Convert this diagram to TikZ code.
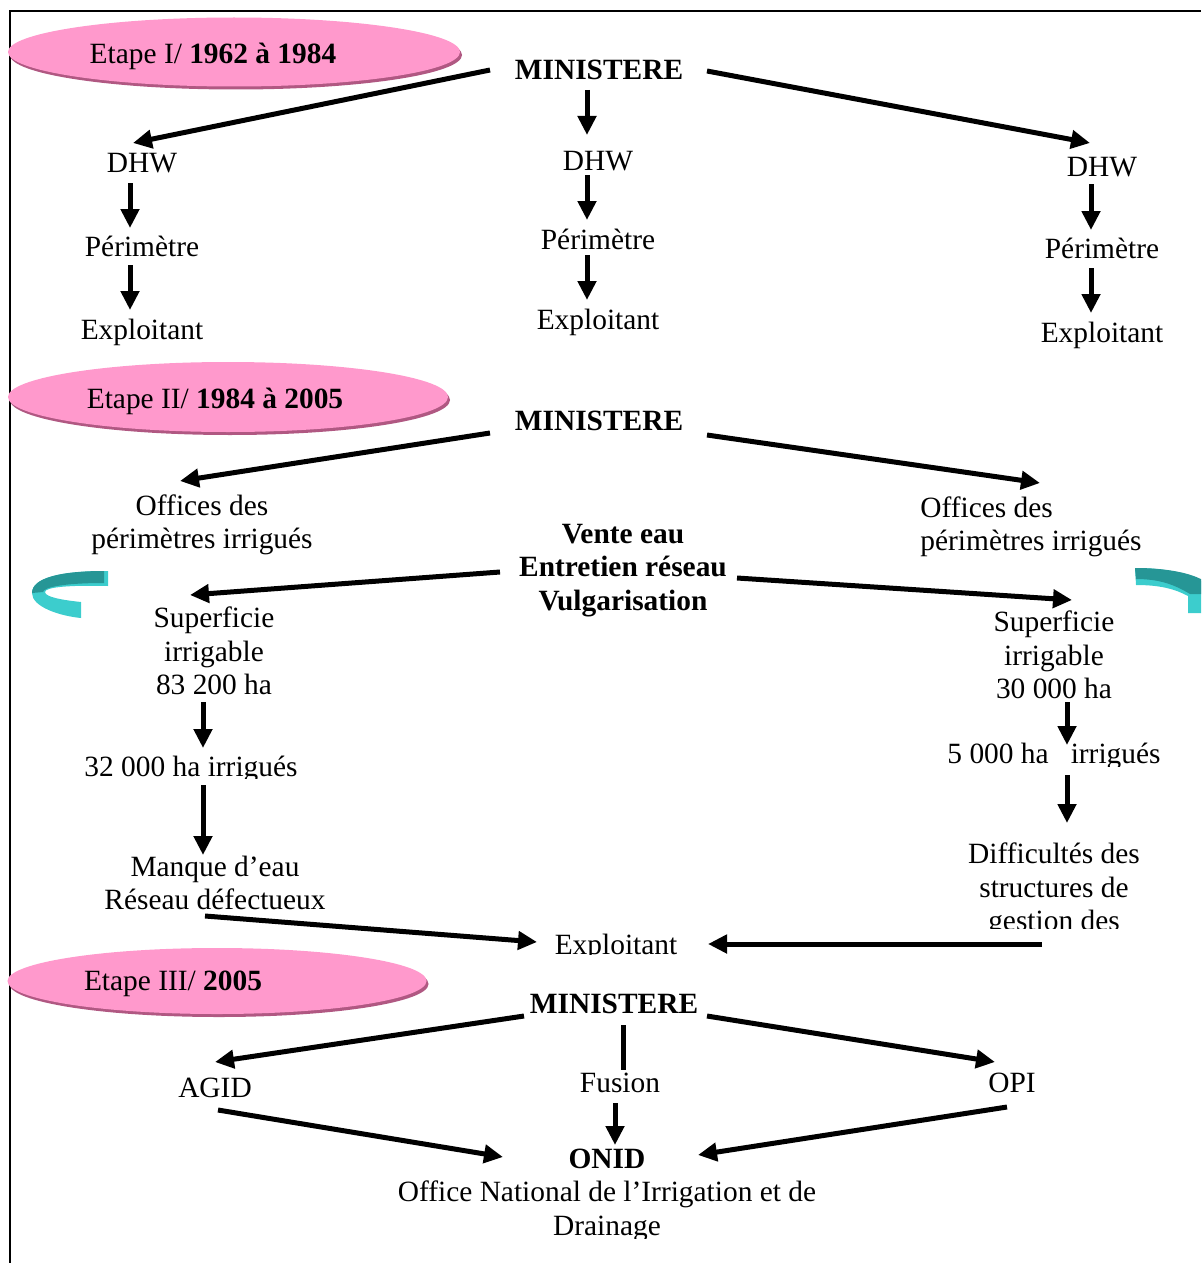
\documentclass[tikz,border=0pt]{standalone}
\usepackage{fontspec}
\setmainfont{Liberation Serif}
\usetikzlibrary{arrows.meta,shapes.geometric}
\definecolor{pinkE}{RGB}{255,153,204}
\definecolor{pinkS}{RGB}{176,88,130}
\definecolor{tealD}{RGB}{38,150,150}
\definecolor{tealL}{RGB}{60,205,205}
\tikzset{
  lbl/.style={font=\fontsize{14.7}{16.75}\selectfont, inner sep=0pt, align=center},
  one/.style={lbl, text height=10pt, text depth=3.2pt},
  bone/.style={one, font=\fontsize{14.7}{16.75}\selectfont\bfseries},
  blbl/.style={lbl, font=\fontsize{14.7}{16.75}\selectfont\bfseries},
  arr/.style={line width=2.5pt, -{Triangle[length=9.5pt,width=9pt]}},
  bar/.style={line width=2.5pt},
  stage/.style={ellipse, fill=pinkE, draw=none, inner sep=0pt},
  stageshadow/.style={ellipse, fill=pinkS, draw=none, inner sep=0pt},
}
\begin{document}
\begin{tikzpicture}[x=0.5pt,y=-0.5pt]
\useasboundingbox (0,0) rectangle (1201,1263);
% frame
\draw[line width=1pt] (10,1263) -- (10,11) -- (1201,11);

% ---------- stage ellipses ----------
\node[stageshadow, minimum width=226pt, minimum height=34.5pt] (e1s) at (236,55) {};
\node[stage, minimum width=226pt, minimum height=34.5pt] (e1) at (234,52) {};
\node[one] (t1) at (213,57) {Etape I/ \textbf{1962 à 1984}};

\node[stageshadow, minimum width=220pt, minimum height=35pt] (e2s) at (230,400) {};
\node[stage, minimum width=220pt, minimum height=35pt] (e2) at (228,397) {};
\node[one] (t2) at (215,402) {Etape II/ \textbf{1984 à 2005}};

\node[stageshadow, minimum width=209.5pt, minimum height=33pt] (e3s) at (219,984) {};
\node[stage, minimum width=209.5pt, minimum height=33pt] (e3) at (217,981) {};
\node[one] (t3) at (173,984) {Etape III/ \textbf{2005}};

% ---------- Stage I ----------
\node[bone] (m1) at (599,73) {MINISTERE};
\node[one] (d1L) at (142,166) {DHW};
\node[one] (d1M) at (598,164) {DHW};
\node[one] (d1R) at (1102,170) {DHW};
\node[one] (p1L) at (142,250) {Périmètre};
\node[one] (p1M) at (598,243) {Périmètre};
\node[one] (p1R) at (1102,252) {Périmètre};
\node[one] (x1L) at (142,333) {Exploitant};
\node[one] (x1M) at (598,323) {Exploitant};
\node[one] (x1R) at (1102,336) {Exploitant};

\draw[arr] ([shift={(-109,-3)}]m1.center) -- ([shift={(-9,-23)}]d1L.center);
\draw[arr] ([shift={(-12,17)}]m1.center) -- ([shift={(-11,-29)}]d1M.center);
\draw[arr] ([shift={(108,-2)}]m1.center) -- ([shift={(-12,-27)}]d1R.center);
\draw[arr] ([shift={(-12,17)}]d1L.center) -- ([shift={(-12,-22)}]p1L.center);
\draw[arr] ([shift={(-12,15)}]p1L.center) -- ([shift={(-12,-23)}]x1L.center);
\draw[arr] ([shift={(-11,11)}]d1M.center) -- ([shift={(-11,-23)}]p1M.center);
\draw[arr] ([shift={(-11,12)}]p1M.center) -- ([shift={(-11,-23)}]x1M.center);
\draw[arr] ([shift={(-11,14)}]d1R.center) -- ([shift={(-11,-22)}]p1R.center);
\draw[arr] ([shift={(-11,16)}]p1R.center) -- ([shift={(-11,-23)}]x1R.center);

% ---------- Stage II ----------
\node[bone] (m2) at (599,424) {MINISTERE};
\node[lbl] (o2L) at (202,525) {Offices des\\périmètres irrigués};
\node[lbl, align=left, anchor=west] (o2R) at (920,527) {Offices des\\périmètres irrigués};
\node[blbl] (v2) at (623,570.5) {Vente eau\\Entretien réseau\\Vulgarisation};
\node[lbl] (s2L) at (214,651) {Superficie\\irrigable\\83 200 ha};
\node[lbl] (s2R) at (1054,655) {Superficie\\irrigable\\30 000 ha};
\begin{scope}
  \clip (700,700) rectangle (1201,766);
  \node[one] (i2R) at (1054,757) {5 000 ha \ \ irrigués};
\end{scope}
\begin{scope}
  \clip (40,700) rectangle (400,778);
  \node[one] (i2L) at (191,770) {32 000 ha irrigués};
\end{scope}
\node[lbl] (mq) at (215,883) {Manque d’eau\\Réseau défectueux};
\begin{scope}
  \clip (880,800) rectangle (1201,928);
  \node[lbl] (df) at (1054,890) {Difficultés des\\structures de\\gestion des};
\end{scope}
\begin{scope}
  \clip (500,900) rectangle (740,954);
  \node[one] (ex2) at (616,948) {Exploitant};
\end{scope}

\draw[arr] ([shift={(-109,9)}]m2.center) -- ([shift={(-22,-44)}]o2L.center);
\draw[arr] ([shift={(108,11)}]m2.center) -- ([shift={(120,-44)}]o2R.west);
\draw[arr] ([shift={(-123,1.5)}]v2.center) -- ([shift={(-24,-56)}]s2L.center);
\draw[arr] ([shift={(114,7.5)}]v2.center) -- ([shift={(18,-55)}]s2R.center);
\draw[arr] ([shift={(-11,51)}]s2L.center) -- ([shift={(12,-22)}]i2L.center);
\draw[arr] ([shift={(12,15)}]i2L.center) -- ([shift={(-12,-28)}]mq.center);
\draw[arr] ([shift={(13,47)}]s2R.center) -- ([shift={(13,-12)}]i2R.center);
\draw[arr] ([shift={(13,18)}]i2R.center) -- ([shift={(13,-67)}]df.center);
\draw[arr] ([shift={(-10,33)}]mq.center) -- ([shift={(-79,-6)}]ex2.center);
\draw[arr] ([shift={(-12,54)}]df.center) -- ([shift={(92,-4)}]ex2.center);

% teal curved arrows
\fill[tealL] (108,571) .. controls (60,571) and (32,578) .. (32,593)
  .. controls (32,607) and (60,616) .. (81,618) -- (81,602)
  .. controls (62,600) and (45,597) .. (45,592)
  .. controls (45,587) and (70,585) .. (108,586) -- cycle;
\fill[tealD] (104,571) .. controls (60,571) and (32,578) .. (32,593)
  -- (43,592) .. controls (44,587) and (65,583) .. (104,583) -- cycle;
\begin{scope}
  \clip (1100,550) rectangle (1201,640);
  \fill[tealL] (1135,568) .. controls (1180,568) and (1215,580) .. (1215,600)
    -- (1215,613) -- (1188,613) -- (1188,596)
    .. controls (1175,589) and (1160,585) .. (1136,585) -- cycle;
  \fill[tealD] (1135,568) .. controls (1180,568) and (1212,578) .. (1215,594)
    -- (1190,594) .. controls (1175,585) and (1160,579) .. (1136,579) -- cycle;
\end{scope}

% ---------- Stage III ----------
\node[bone] (m3) at (614,1007) {MINISTERE};
\node[one] (ag) at (215,1091) {AGID};
\node[one] (op) at (1012,1086) {OPI};
\begin{scope}
  \clip (540,1060) rectangle (700,1092);
  \node[one] (fu) at (620,1086) {Fusion};
\end{scope}
\begin{scope}
  \clip (350,1130) rectangle (850,1238);
  \node[lbl] (on) at (607,1195) {\textbf{ONID}\\Office National de l’Irrigation et de\\Drainage};
\end{scope}

\draw[arr] ([shift={(-90,9)}]m3.center) -- ([shift={(0,-29)}]ag.center);
\draw[arr] ([shift={(93,9)}]m3.center) -- ([shift={(-17,-24)}]op.center);
\draw[bar] ([shift={(9,18)}]m3.center) -- ([shift={(3,-16)}]fu.center);
\draw[arr] ([shift={(-5,17)}]fu.center) -- ([shift={(8,-50)}]on.center);
\draw[arr] ([shift={(3,19)}]ag.center) -- ([shift={(-104,-38)}]on.center);
\draw[arr] ([shift={(-5,21)}]op.center) -- ([shift={(91,-40)}]on.center);
\end{tikzpicture}
\end{document}
